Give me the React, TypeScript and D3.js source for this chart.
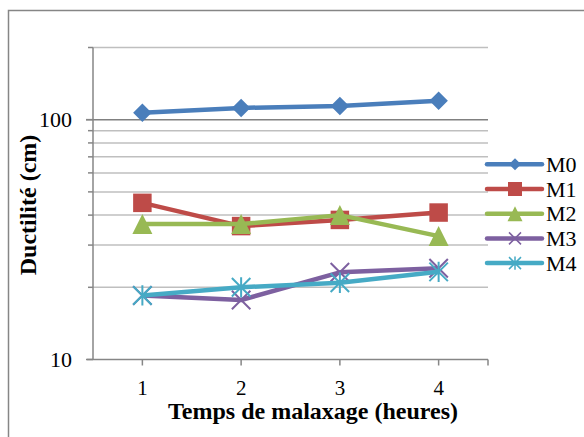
import { useEffect, useRef } from "react"
import * as d3 from "d3"

const hours = [1, 2, 3, 4]
const seriesNames = ["M0", "M1", "M2", "M3", "M4"]
const m0 = [107, 112, 114, 120]
const m1 = [45, 36, 38.2, 41]
const m2 = [36.7, 36.7, 40, 32.7]
const m3 = [18.5, 17.7, 23.1, 24]
const m4 = [18.5, 20, 20.9, 23.2]
const colors = ["#4A7EBB", "#BE4B48", "#98B954", "#7D60A0", "#46AAC5"]
const markers = ["diamond", "square", "triangle", "x", "star"]
const yTicks = [10, 100]
const yGrid = [20, 30, 40, 50, 60, 70, 80, 90, 100, 200]

const FONT = '"Liberation Serif", "Times New Roman", "DejaVu Serif", serif'

function markerPath(kind: string, s: number) {
  const h = s / 2
  switch (kind) {
    case "diamond":
      return `M0,${-h}L${h},0L0,${h}L${-h},0Z`
    case "square":
      return `M${-h},${-h}H${h}V${h}H${-h}Z`
    case "triangle":
      return `M0,${-h}L${h},${h}L${-h},${h}Z`
    case "x":
      return `M${-h},${-h}L${h},${h}M${h},${-h}L${-h},${h}`
    default:
      return `M${-h},${-h}L${h},${h}M${h},${-h}L${-h},${h}M0,${-h * 1.1}V${h * 1.1}`
  }
}

export default function App() {
  const ref = useRef<SVGSVGElement>(null)

  useEffect(() => {
    const svg = d3.select(ref.current)
    svg.selectAll("*").remove()
    svg.style("font-family", FONT)

    const data = [m0, m1, m2, m3, m4]
    const left = 93, right = 488, top = 47.5, bottom = 359.5

    const x = d3.scaleBand<number>().domain(hours).range([left, right])
    const cx = (h: number) => (x(h) ?? 0) + x.bandwidth() / 2
    const y = d3.scaleLog().domain([10, 200]).range([bottom, top])

    // cadre
    svg.append("rect")
      .attr("x", 8.5).attr("y", 10.5).attr("width", 620).attr("height", 460)
      .attr("fill", "#fff").attr("stroke", "#868686").attr("stroke-width", 1.5)

    // grille
    svg.append("g").selectAll("line").data(yGrid).enter().append("line")
      .attr("x1", left).attr("x2", right)
      .attr("y1", (d) => y(d)).attr("y2", (d) => y(d))
      .attr("stroke", (d) => (d === 100 ? "#808080" : "#BFBFBF"))
      .attr("stroke-width", 1.5)

    // axe Y
    const ax = svg.append("g").attr("stroke", "#868686").attr("stroke-width", 1.5)
    ax.append("line").attr("x1", left).attr("x2", left).attr("y1", top).attr("y2", bottom)
    ax.selectAll(".yt").data([...yTicks, ...yGrid]).enter().append("line")
      .attr("x1", (d) => (yTicks.includes(d) ? 86 : 88)).attr("x2", left)
      .attr("y1", (d) => y(d)).attr("y2", (d) => y(d))
    // axe X
    ax.append("line").attr("x1", left - 6).attr("x2", right).attr("y1", bottom).attr("y2", bottom)
    ax.selectAll(".xt").data([...hours.map(cx), right]).enter().append("line")
      .attr("x1", (d) => d).attr("x2", (d) => d)
      .attr("y1", bottom).attr("y2", bottom + 6)

    svg.append("g").selectAll("text").data(yTicks).enter().append("text")
      .attr("x", 72).attr("y", (d) => y(d) + 7.5)
      .attr("text-anchor", "end").style("font-family", FONT).attr("font-size", 22)
      .text((d) => d)

    svg.append("g").selectAll("text").data(hours).enter().append("text")
      .attr("x", (d) => cx(d)).attr("y", 395)
      .attr("text-anchor", "middle").style("font-family", FONT).attr("font-size", 21)
      .text((d) => d)

    svg.append("text")
      .attr("x", 313).attr("y", 419)
      .attr("text-anchor", "middle").style("font-family", FONT)
      .attr("font-size", 24).attr("font-weight", "bold")
      .text("Temps de malaxage (heures)")

    svg.append("text")
      .attr("transform", "translate(36,205) rotate(-90)")
      .attr("text-anchor", "middle").style("font-family", FONT)
      .attr("font-size", 24).attr("font-weight", "bold")
      .text("Ductilité (cm)")

    // séries
    const line = d3.line<number>().x((_, i) => cx(hours[i])).y((d) => y(d))
    data.forEach((vals, s) => {
      const g = svg.append("g")
      g.append("path").attr("d", line(vals)).attr("fill", "none")
        .attr("stroke", colors[s]).attr("stroke-width", 4.5).attr("stroke-linejoin", "round")
      const stroked = markers[s] === "x" || markers[s] === "star"
      g.selectAll("path.mk").data(vals).enter().append("path")
        .attr("class", "mk")
        .attr("transform", (d, i) => `translate(${cx(hours[i])},${y(d)})`)
        .attr("d", markerPath(markers[s], markers[s] === "triangle" ? 20 : 18.5))
        .attr("fill", stroked ? "none" : colors[s])
        .attr("stroke", colors[s]).attr("stroke-width", stroked ? 2 : 0)
    })

    // légende
    const lg = svg.append("g")
    seriesNames.forEach((name, s) => {
      const ly = 164.3 + s * 24.7
      lg.append("line").attr("x1", 487).attr("x2", 542).attr("y1", ly).attr("y2", ly)
        .attr("stroke", colors[s]).attr("stroke-width", 4.5).attr("stroke-linecap", "round")
      const stroked = markers[s] === "x" || markers[s] === "star"
      lg.append("path").attr("transform", `translate(515,${ly})`)
        .attr("d", markerPath(markers[s], markers[s] === "square" ? 14 : markers[s] === "triangle" ? 15 : 12))
        .attr("fill", stroked ? "none" : colors[s])
        .attr("stroke", colors[s]).attr("stroke-width", stroked ? 1.5 : 0)
      lg.append("text").attr("x", 546).attr("y", ly + 7.5)
        .style("font-family", FONT).attr("font-size", 22).text(name)
    })
  }, [])

  return (
    <svg
      ref={ref}
      width={584}
      height={437}
      style={{ position: "absolute", left: 0, top: 0, background: "#fff" }}
    />
  )
}
